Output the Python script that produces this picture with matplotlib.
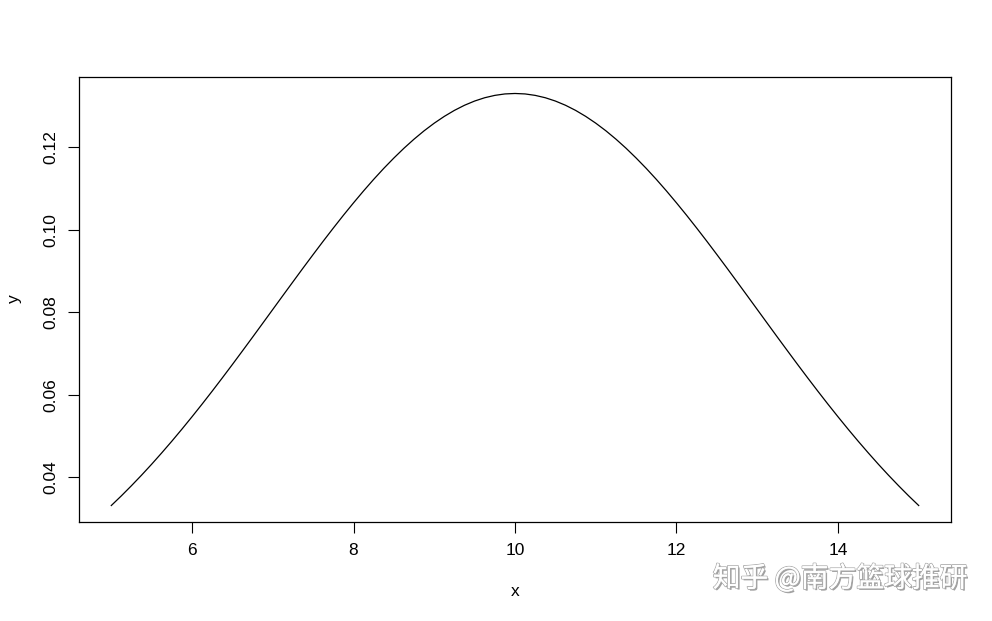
import matplotlib
matplotlib.use("Agg")
import matplotlib.pyplot as plt
import matplotlib.patheffects as pe

# values (x from 5 to 15 in steps of 0.125)
x_vals = [5.0, 5.125, 5.25, 5.375, 5.5, 5.625, 5.75, 5.875, 6.0, 6.125, 6.25, 6.375,
          6.5, 6.625, 6.75, 6.875, 7.0, 7.125, 7.25, 7.375, 7.5, 7.625, 7.75, 7.875,
          8.0, 8.125, 8.25, 8.375, 8.5, 8.625, 8.75, 8.875, 9.0, 9.125, 9.25, 9.375,
          9.5, 9.625, 9.75, 9.875, 10.0, 10.125, 10.25, 10.375, 10.5, 10.625, 10.75,
          10.875, 11.0, 11.125, 11.25, 11.375, 11.5, 11.625, 11.75, 11.875, 12.0,
          12.125, 12.25, 12.375, 12.5, 12.625, 12.75, 12.875, 13.0, 13.125, 13.25,
          13.375, 13.5, 13.625, 13.75, 13.875, 14.0, 14.125, 14.25, 14.375, 14.5,
          14.625, 14.75, 14.875, 15.0]
y_vals = [0.03316, 0.03551, 0.03797, 0.04052, 0.04317, 0.04592, 0.04875, 0.05167,
          0.05467, 0.05774, 0.06088, 0.06408, 0.06733, 0.07063, 0.07395, 0.07730,
          0.08066, 0.08402, 0.08736, 0.09069, 0.09397, 0.09721, 0.10038, 0.10348,
          0.10648, 0.10939, 0.11218, 0.11484, 0.11735, 0.11972, 0.12192, 0.12395,
          0.12579, 0.12744, 0.12889, 0.13013, 0.13115, 0.13195, 0.13252, 0.13287,
          0.13298,
          0.13287, 0.13252, 0.13195, 0.13115, 0.13013, 0.12889, 0.12744, 0.12579,
          0.12395, 0.12192, 0.11972, 0.11735, 0.11484, 0.11218, 0.10939, 0.10648,
          0.10348, 0.10038, 0.09721, 0.09397, 0.09069, 0.08736, 0.08402, 0.08066,
          0.07730, 0.07395, 0.07063, 0.06733, 0.06408, 0.06088, 0.05774, 0.05467,
          0.05167, 0.04875, 0.04592, 0.04317, 0.04052, 0.03797, 0.03551, 0.03316]
x_ticks = [6, 8, 10, 12, 14]
y_ticks = [0.04, 0.06, 0.08, 0.10, 0.12]
y_tick_labels = ["0.04", "0.06", "0.08", "0.10", "0.12"]

plt.rcParams['font.family'] = ['Liberation Sans', 'Noto Sans CJK SC', 'DejaVu Sans']

fig = plt.figure(figsize=(9.92, 6.21), dpi=100)
ax = fig.add_axes([79/992, 1 - 522/621, (951 - 79)/992, (522 - 77)/621])
ax.plot(x_vals, y_vals, color='black', lw=0.9)

xr = max(x_vals) - min(x_vals)
yr = max(y_vals) - min(y_vals)
ax.set_xlim(min(x_vals) - 0.04 * xr, max(x_vals) + 0.04 * xr)
ax.set_ylim(min(y_vals) - 0.04 * yr, max(y_vals) + 0.04 * yr)

ax.set_xticks(x_ticks)
ax.set_xticklabels([str(t) for t in x_ticks])
ax.set_yticks(y_ticks)
ax.set_yticklabels(y_tick_labels, rotation=90, va='center')
ax.tick_params(axis='both', length=8, width=0.8, labelsize=12.5, pad=7)
for s in ax.spines.values():
    s.set_linewidth(0.9)
    s.set_color('black')

ax.set_xlabel('x', fontsize=12.5)
ax.xaxis.set_label_coords((515 - 79) / 872, -(592 - 522) / 445)
ax.xaxis.label.set_va('center')
ax.set_ylabel('y', fontsize=12.5)
ax.yaxis.set_label_coords(-(79 - 14) / 872, (522 - 299) / 445)
ax.yaxis.label.set_va('center')

fig.text(0.975, 0.068, '知乎 @南方篮球推研', ha='right', va='center',
         fontsize=20, color='white', family=['Noto Sans CJK SC', 'DejaVu Sans'],
         path_effects=[pe.withSimplePatchShadow(offset=(1.2, -1.2), shadow_rgbFace='#888888', alpha=0.8),
                       pe.withStroke(linewidth=1.2, foreground='#aaaaaa'),
                       pe.Normal()])

fig.savefig('out.png', dpi=100)
